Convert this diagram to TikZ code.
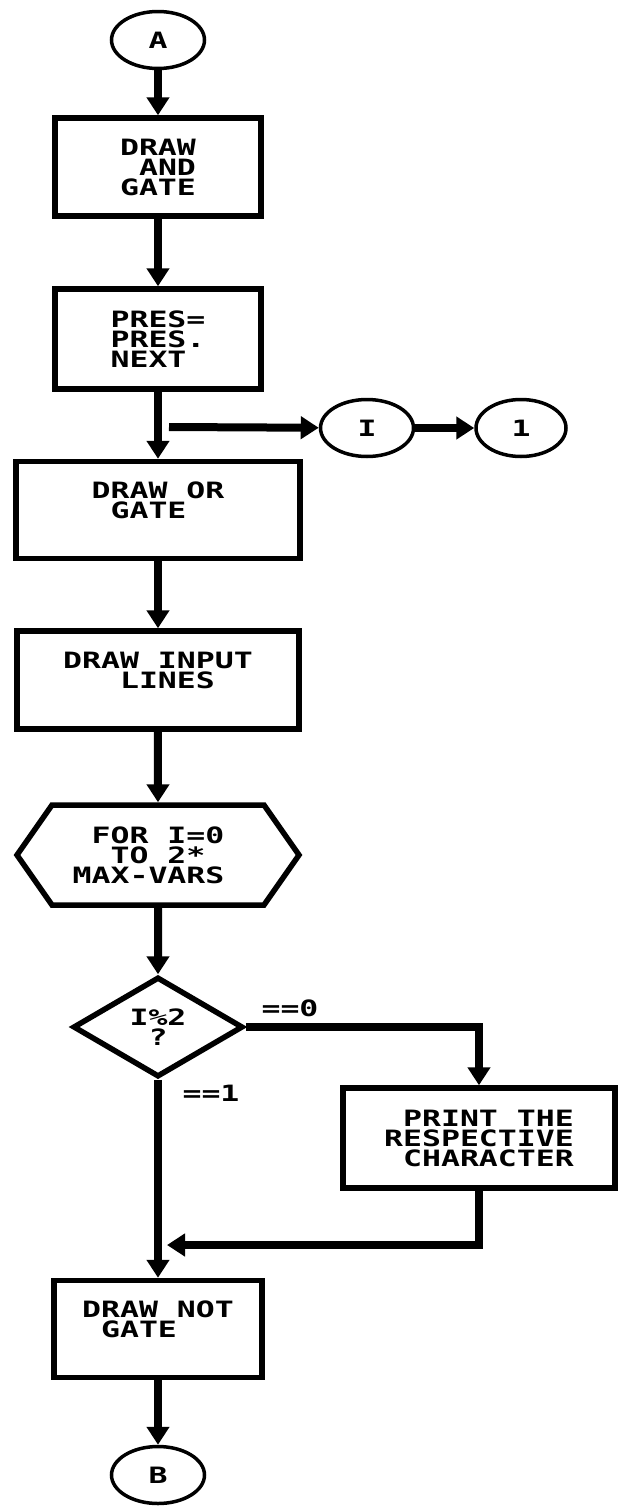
\documentclass[tikz,border=0pt]{standalone}
\usepackage{fontspec}
\newfontfamily\flowfont{DejaVu Sans Mono}[FakeStretch=1.4]
\usetikzlibrary{arrows.meta,shapes.geometric,shapes.symbols}
\tikzset{
  txt/.style={font=\flowfont\bfseries\fontsize{22.5}{20}\selectfont, align=left, inner sep=0pt},
  procbox/.style={txt, draw, rectangle, line width=5.5pt},
  conn/.style={txt, draw, ellipse, line width=3.5pt, minimum width=93pt, minimum height=57pt},
  flow/.style={line width=8pt, -{Triangle[length=18pt,width=22pt]}}
}
\begin{document}
\begin{tikzpicture}[x=1pt,y=-1pt]
 \useasboundingbox (0,0) rectangle (620,1510);
 \node[conn] (startA) at (158,40) {A};
 \node[procbox, minimum width=206pt, minimum height=98pt] (andgate) at (158,167) {DRAW\\~AND\\GATE};
 \node[procbox, minimum width=206pt, minimum height=100pt] (presnext) at (158,339) {PRES=\\PRES.\\NEXT};
 \node[conn] (conI) at (367,428) {I};
 \node[conn, minimum width=90pt] (conOne) at (521,428) {1};
 \node[procbox, minimum width=284pt, minimum height=97pt] (orgate) at (158,510) {DRAW OR\\~GATE\\\mbox{}};
 \node[procbox, minimum width=282pt, minimum height=98pt] (inputs) at (158,680) {DRAW INPUT\\~~~LINES\\\mbox{}};
 \node[txt, draw, signal, signal to=west and east, signal pointer angle=110, line width=5.5pt,
   minimum width=282pt, minimum height=100pt] (loopvars) at (158,855) {~FOR I=0\\~~TO 2*\\MAX-VARS\hphantom{0}};
 \node[txt, draw, diamond, line width=5.5pt, minimum width=170pt, minimum height=100pt] (parity) at (158,1027) {I\%2\\~?};
 \node[txt] (zeroLbl) at (290,1008) {==0};
 \node[txt] (oneLbl) at (211,1093) {==1};
 \node[procbox, minimum width=272pt, minimum height=100pt] (printchar) at (479,1138) {~PRINT THE\\RESPECTIVE\\~CHARACTER};
 \node[procbox, minimum width=208pt, minimum height=97pt] (notgate) at (158,1329) {DRAW NOT\\~GATE\\\mbox{}};
 \node[conn] (endB) at (158,1475) {B};
 \coordinate (branch) at (169,427);
 \coordinate (merge) at (167,1245);
 \draw[flow] (startA) -- (andgate);
 \draw[flow] (andgate) -- (presnext);
 \draw[flow] (presnext) -- (orgate);
 \draw[flow] (branch) -- (conI);
 \draw[flow] (conI) -- (conOne);
 \draw[flow] (orgate) -- (inputs);
 \draw[flow] (inputs) -- (loopvars);
 \draw[flow] (loopvars) -- (parity);
 \draw[flow] (parity.east) -| (printchar.north);
 \draw[flow] (parity) -- (notgate);
 \draw[flow] (printchar.south) |- (merge);
 \draw[flow] (notgate) -- (endB);
\end{tikzpicture}
\end{document}
